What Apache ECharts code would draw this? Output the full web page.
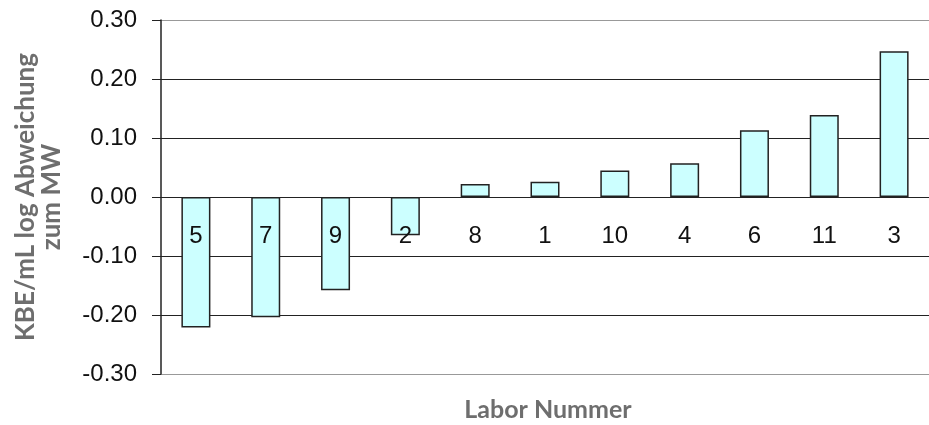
<!DOCTYPE html>
<html>
<head>
<meta charset="utf-8">
<script src="https://cdn.jsdelivr.net/npm/echarts@6/dist/echarts.min.js"></script>
<style>
  html, body { margin: 0; padding: 0; background: #fff; }
  #chart { width: 929px; height: 425px; }
</style>
</head>
<body>
<div id="chart"></div>
<script>
// Laboratories, sorted by deviation
const labs = ['5', '7', '9', '2', '8', '1', '10', '4', '6', '11', '3'];
// log deviation of KBE/mL from the mean value (MW)
const deviation = [-0.221, -0.204, -0.158, -0.065, 0.022, 0.026, 0.045, 0.057, 0.113, 0.139, 0.247];

const yMin = -0.3, yMax = 0.3, yStep = 0.1;
const yTitle = 'KBE/mL log Abweichung\nzum MW';
const xTitle = 'Labor Nummer';

const gridTop = 20, gridBottom = 51, chartH = 425;
const plotH = chartH - gridTop - gridBottom;
// lift the category axis from the bottom edge up to the zero line
const zeroOffset = -plotH * (0 - yMin) / (yMax - yMin);

const chart = echarts.init(document.getElementById('chart'), null, { renderer: 'canvas' });

chart.setOption({
  animation: false,
  backgroundColor: '#ffffff',
  grid: { left: 161, right: 0, top: gridTop, bottom: gridBottom },
  xAxis: {
    type: 'category',
    data: labs,
    position: 'bottom',
    offset: zeroOffset,
    z: 10,
    axisLine: { onZero: false, lineStyle: { color: '#222222', width: 1.2 } },
    axisTick: { show: false },
    axisLabel: {
      margin: 27,
      color: '#111111',
      fontFamily: 'Liberation Sans, Arial, sans-serif',
      fontSize: 24
    },
    splitLine: { show: false }
  },
  yAxis: {
    type: 'value',
    min: yMin,
    max: yMax,
    interval: yStep,
    name: yTitle,
    nameLocation: 'middle',
    nameRotate: 90,
    nameGap: 96,
    nameTextStyle: {
      color: '#6e6e6e',
      fontFamily: 'Lato, sans-serif',
      fontWeight: 'bold',
      fontSize: 26,
      lineHeight: 26,
      align: 'center'
    },
    axisLine: { show: true, lineStyle: { color: '#222222', width: 1.5 } },
    axisTick: { show: true, length: 9, lineStyle: { color: '#222222' } },
    axisLabel: {
      margin: 24,
      color: '#111111',
      fontFamily: 'Liberation Sans, Arial, sans-serif',
      fontSize: 24,
      formatter: v => v.toFixed(2)
    },
    splitLine: {
      show: true,
      lineStyle: {
        color: ['#999999', '#222222', '#222222', '#222222', '#222222', '#222222', '#999999'],
        width: 1.2
      }
    }
  },
  graphic: [{
    type: 'text',
    x: 548,
    y: 410,
    style: {
      text: xTitle,
      fill: '#6e6e6e',
      font: 'bold 25px Lato, sans-serif',
      textAlign: 'center',
      textVerticalAlign: 'middle'
    }
  }],
  series: [{
    type: 'bar',
    data: deviation,
    barWidth: 29,
    itemStyle: {
      color: '#ccffff',
      borderColor: '#222222',
      borderWidth: 1.5
    }
  }]
});
</script>
</body>
</html>
